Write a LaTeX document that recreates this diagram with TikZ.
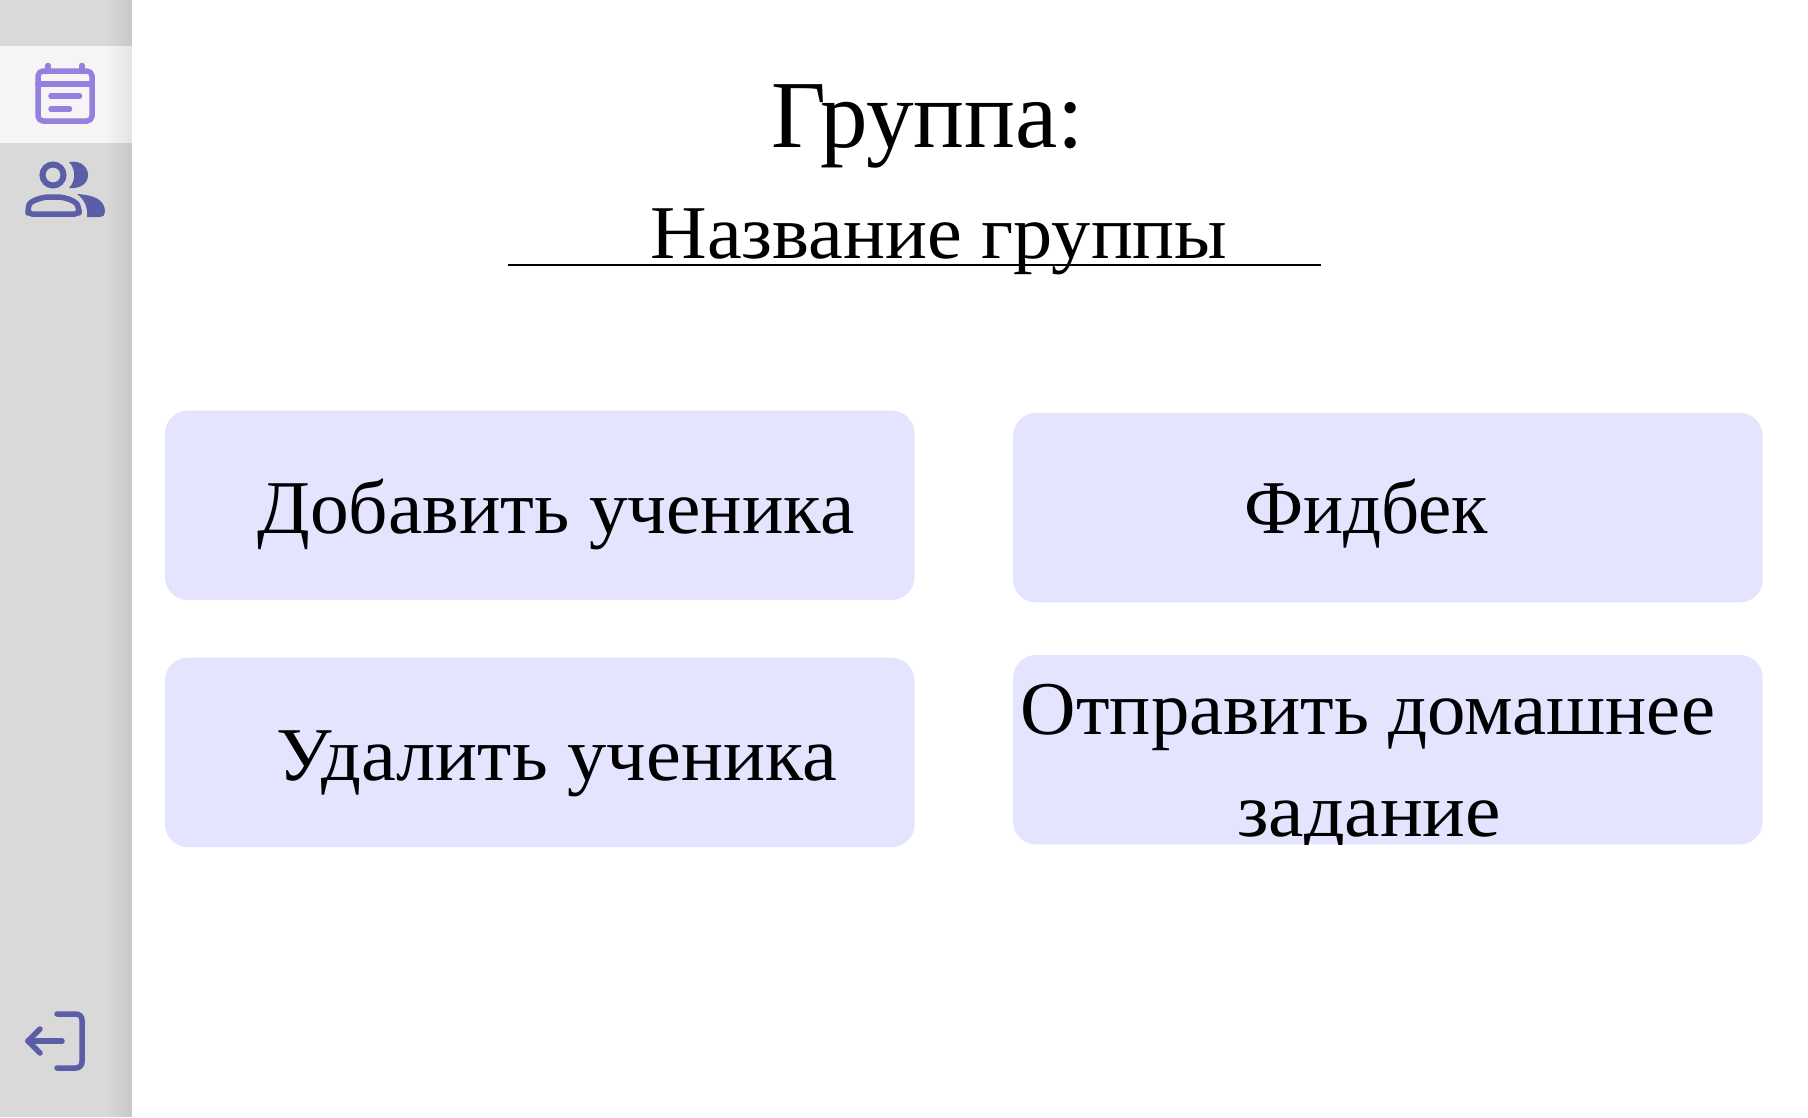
\documentclass[tikz,border=0pt]{standalone}
\usepackage{fontspec}
\setmainfont{Liberation Serif}
\definecolor{sidebar}{HTML}{D9D9D9}
\definecolor{sideedge}{HTML}{C8C8C8}
\definecolor{hilite}{HTML}{F5F5F5}
\definecolor{hiedge}{HTML}{E4E4E4}
\definecolor{calcol}{HTML}{9580E0}
\definecolor{iconcol}{HTML}{5B5EA6}
\definecolor{btn}{HTML}{E4E4FF}
\newcommand{\fitx}[3]{\fontsize{#2}{#2}\selectfont\resizebox{#1pt}{\height}{#3}}
\tikzset{
  button/.style={fill=btn,draw=none,rounded corners=23pt,inner sep=0pt,minimum width=749.5pt,minimum height=189.5pt,anchor=north west},
  label/.style={anchor=base,inner sep=0pt,text=black},
  calline/.style={draw=calcol,line width=5.5pt,line cap=round,line join=round},
  iconline/.style={draw=iconcol,line width=5.5pt,line cap=round,line join=round}
}
\begin{document}
\begin{tikzpicture}[x=1pt,y=-1pt]
\useasboundingbox (0,0) rectangle (1808,1117);
\fill[white] (0,0) rectangle (1808,1117);
% sidebar, with its edge gradient in solid strips
\fill[sidebar] (0,0) rectangle (132,1117);
\fill[hilite] (0,46) rectangle (132,143);
\foreach \i in {0,...,26}{
  \pgfmathtruncatemacro{\p}{\i*100/26}
  \pgfmathsetmacro{\xa}{105+\i}
  \pgfmathsetmacro{\xb}{106+\i}
  \fill[sideedge!\p!sidebar] (\xa,0) rectangle (\xb,46);
  \fill[hiedge!\p!hilite] (\xa,46) rectangle (\xb,143);
  \fill[sideedge!\p!sidebar] (\xa,143) rectangle (\xb,1117);
}
% calendar icon
\draw[calline,rounded corners=5pt] (38,71) rectangle (92,121);
\draw[calline] (38,84) -- (92,84);
\draw[calline] (48,65.5) -- (48,70);
\draw[calline] (82,65.5) -- (82,70);
\draw[calline] (51,96) -- (79.5,96);
\draw[calline] (51,109) -- (69.5,109);
% people icon
\draw[iconcol,line width=6pt] (53,175) circle (10.5);
\fill[iconcol] (69,162) .. controls (82,160) and (88,168) .. (88,175)
  .. controls (88,183) and (81,189) .. (69,188) .. controls (76,181) and (76,169) .. (69,162) -- cycle;
\draw[iconline,rounded corners=4pt] (28,214) -- (28,209) .. controls (30,201) and (42,197) .. (53,197)
  .. controls (65,197) and (76,201) .. (79,209) -- (79,214) -- cycle;
\fill[iconcol] (77,194) .. controls (93,195) and (105,199) .. (105,212)
  .. controls (105,215) and (103,217) .. (100,217) -- (87,217)
  .. controls (88,208) and (85,200) .. (77,194) -- cycle;
% exit icon
\draw[iconline,rounded corners=6pt] (57,1014) -- (82,1014) -- (82,1068) -- (57,1068);
\draw[iconline] (62,1041) -- (28,1041);
\draw[iconline] (40,1029) -- (28,1041) -- (40,1053);
% title
\node[label] (title) at (927.5,147.5) {\fitx{313}{96}{Группа:}};
\node[label] (group) at (939,258.5) {\fitx{577}{76}{Название группы}};
\coordinate (ruleL) at (508.3,265);
\coordinate (ruleR) at (1320.5,265);
\draw[black,line width=2pt] (ruleL) -- (ruleR);
% buttons
\node[button] (add) at (164.8,410.4) {};
\node[button] (feedback) at (1013,412.7) {};
\node[button] (remove) at (164.8,657.5) {};
\node[button] (homework) at (1013,654.7) {};
\node[label] (addt) at (556,533) {\fitx{597}{76}{Добавить ученика}};
\node[label] (feedt) at (1366,533) {\fitx{244}{76}{Фидбек}};
\node[label] (remt) at (556.8,780) {\fitx{560}{76}{Удалить ученика}};
\node[label] (homet) at (1368,734) {\fitx{694}{76}{Отправить домашнее}};
\begin{scope}
\clip (1013,654.7) rectangle (1762.5,844);
\node[label] (homet2) at (1369,836) {\fitx{264}{76}{задание}};
\end{scope}
\end{tikzpicture}
\end{document}
